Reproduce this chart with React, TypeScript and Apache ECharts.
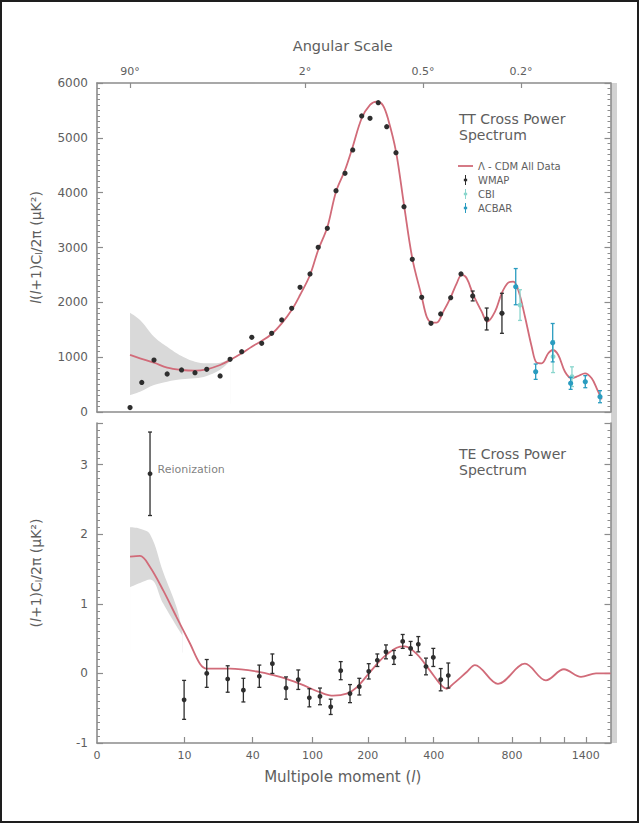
import React, { useEffect, useRef } from "react";
import * as echarts from "echarts";

const FONT = "DejaVu Sans";
const AXIS = "#8c8c8c";
const TEXT = "#5e5e5e";
const MODEL = "#d16b79";
const BAND = "#d9d9d9";
const WMAP_C = "#2e2e2e";
const CBI_C = "#8ad6cd";
const ACBAR_C = "#2a9cc0";

// Horizontal scale of the original figure: position proportional to l^(1/4)
const tx = (l: number) => Math.pow(l, 0.25);
const X_MIN = 0.832;
const X_MAX = 6.384;

// Axis ticks / labels
const multipoleTicks = [10, 40, 100, 200, 300, 400, 600, 800, 1000, 1200, 1400];
const multipoleLabels = [0, 10, 40, 100, 200, 400, 800, 1400];
const angleLabels = ["90°", "2°", "0.5°", "0.2°"];
const angleMultipoles = [2, 90, 360, 860];

// TT: WMAP binned points
const ttWmapL = [2, 3, 4.4, 6.4, 9.3, 12.8, 16.6, 21.9, 26.6, 33, 39.4, 46.6, 54.8, 64.1, 74.4, 84, 96.6, 108, 121.8, 136.2, 152.4, 167.4, 186.2, 205, 225, 247, 273, 297, 323.5, 355.7, 389.7, 427.8, 470, 516.7, 573.7, 648, 737];
const ttWmapV = [80, 540, 948, 693, 766, 717, 779, 657, 961, 1100, 1362, 1253, 1435, 1678, 1891, 2274, 2517, 3004, 3350, 4036, 4354, 4779, 5399, 5357, 5642, 5204, 4730, 3745, 2785, 2092, 1618, 1788, 2085, 2517, 2116, 1696, 1800];
const ttWmapErr = [0, 0, 0, 0, 0, 0, 0, 0, 0, 0, 0, 0, 0, 0, 0, 0, 0, 0, 0, 0, 0, 0, 0, 0, 0, 0, 0, 0, 0, 0, 0, 0, 0, 0, 90, 200, 365];

// TT: CBI and ACBAR
const cbiL = [854, 1103, 1268];
const cbiV = [1950, 1009, 644];
const cbiErr = [280, 290, 180];
const acbarL = [825, 966, 1100, 1256, 1395, 1546];
const acbarV = [2286, 735, 1264, 523, 553, 279];
const acbarErr = [330, 140, 350, 110, 110, 110];

// TT: Lambda-CDM model
const ttModelL = [2, 2.83, 4.4, 6.4, 9.3, 12.8, 16.6, 21.9, 26.6, 33, 39.4, 46.6, 54.8, 64.1, 74.4, 84, 96.6, 108, 121.8, 136.2, 152.4, 167.4, 186.2, 205, 221, 236.4, 251.4, 273, 297, 323.5, 355.7, 373.7, 389.7, 411.8, 438.5, 470, 496.8, 519.9, 543.8, 576.8, 620.6, 651.4, 695.4, 735.5, 776.6, 808.9, 842, 888.3, 936.5, 973.6, 1011.8, 1063.9, 1100, 1146.7, 1205, 1265, 1327, 1392, 1459, 1511, 1564];
const ttModelV = [1040, 979, 900, 808, 766, 753, 779, 857, 948, 1070, 1191, 1295, 1423, 1617, 1860, 2134, 2499, 2955, 3368, 4018, 4413, 4839, 5357, 5600, 5660, 5600, 5326, 4748, 3776, 2803, 2103, 1738, 1640, 1630, 1830, 2092, 2347, 2499, 2439, 2134, 1830, 1647, 1830, 2165, 2359, 2377, 2225, 1738, 1191, 899, 888, 1071, 1131, 1040, 735, 615, 657, 706, 615, 432, 231];

// TT: cosmic-variance band
const ttBandL = [2, 2.83, 4.4, 6.4, 9.3, 12.8, 16.6, 21.9, 26.6];
const ttBandLo = [310, 371, 492, 553, 596, 614, 657, 770, 930];
const ttBandHi = [1811, 1678, 1374, 1191, 1021, 917, 888, 900, 965];

// TE: WMAP points (first one is the reionization bin)
const teWmapL = [3.9, 9.9, 16.6, 25.4, 34, 44.8, 55.4, 68.4, 81.9, 95.7, 110.6, 127.3, 144.5, 162, 181, 202, 222.7, 245, 267, 293, 318, 343.8, 371, 398.6, 428, 459.6];
const teWmapV = [2.87, -0.38, 0.0, -0.08, -0.24, -0.04, 0.14, -0.21, -0.09, -0.35, -0.33, -0.48, 0.04, -0.29, -0.19, 0.03, 0.19, 0.31, 0.23, 0.46, 0.36, 0.42, 0.1, 0.23, -0.09, -0.03];
const teWmapErr = [0.6, 0.28, 0.2, 0.19, 0.17, 0.16, 0.14, 0.16, 0.14, 0.13, 0.12, 0.11, 0.13, 0.13, 0.12, 0.11, 0.09, 0.1, 0.1, 0.1, 0.1, 0.11, 0.12, 0.13, 0.16, 0.18];

// TE: model
const teModelL = [2, 2.83, 3.9, 5.76, 8.2, 11.4, 14.3, 16.6, 26.6, 45.3, 62.4, 84, 110.6, 131.6, 155.6, 175.6, 205, 238, 275, 300, 338, 386, 425, 453, 481, 544, 585, 713, 888, 1045, 1196, 1353, 1504, 1661];
const teModelV = [1.68, 1.69, 1.53, 1.19, 0.81, 0.43, 0.14, 0.07, 0.07, 0.02, -0.05, -0.15, -0.27, -0.32, -0.29, -0.2, 0.02, 0.23, 0.37, 0.39, 0.28, 0.04, -0.15, -0.22, -0.15, 0.02, 0.12, -0.15, 0.14, -0.1, 0.06, -0.05, 0.0, 0.0];

// TE: band
const teBandL = [2, 2.83, 3.9, 5.76, 8.2, 9.5];
const teBandLo = [1.24, 1.3, 1.35, 1.0, 0.68, 0.55];
const teBandHi = [2.1, 2.08, 2.0, 1.45, 0.95, 0.6];

const pairs = (ls: number[], vs: number[]) => ls.map((l, i) => [tx(l), vs[i]]);
const triples = (ls: number[], vs: number[], es: number[]) => ls.map((l, i) => [tx(l), vs[i], es[i]]);

function errorBars(color: string, r: number) {
  return (_params: any, api: any) => {
    const x = api.value(0);
    const y = api.value(1);
    const e = api.value(2);
    const c = api.coord([x, y]);
    const children: any[] = [];
    if (e > 0) {
      const top = api.coord([x, y + e]);
      const bot = api.coord([x, y - e]);
      const st = { stroke: color, lineWidth: 1.3 };
      children.push({ type: "line", shape: { x1: c[0], y1: top[1], x2: c[0], y2: bot[1] }, style: st });
      children.push({ type: "line", shape: { x1: c[0] - 2, y1: top[1], x2: c[0] + 2, y2: top[1] }, style: st });
      children.push({ type: "line", shape: { x1: c[0] - 2, y1: bot[1], x2: c[0] + 2, y2: bot[1] }, style: st });
    }
    children.push({ type: "circle", shape: { cx: c[0], cy: c[1], r }, style: { fill: color } });
    return { type: "group", children };
  };
}

const labelStyle = { fontFamily: FONT, color: TEXT };
const axisLine = { show: true, onZero: false, lineStyle: { color: AXIS, width: 1.6 } };

function yAxisPair(grid: number, min: number, max: number, interval: number, name: string) {
  const base = {
    gridIndex: grid,
    type: "value" as const,
    min,
    max,
    interval,
    axisLine,
    splitLine: { show: false },
    axisTick: { show: true, inside: true, length: 6, lineStyle: { color: AXIS, width: 1.2 } },
    minorTick: { show: true, splitNumber: 10, length: 3, lineStyle: { color: AXIS, width: 1 } },
  };
  return [
    {
      ...base,
      position: "left",
      name,
      nameLocation: "middle",
      nameGap: 54,
      nameRotate: 90,
      nameTextStyle: {
        ...labelStyle,
        fontSize: 14,
        padding: grid === 1 ? [0, 0, 0, 20] : 0,
        rich: {
          i: { ...labelStyle, fontSize: 14, fontStyle: "italic" },
          s: { ...labelStyle, fontSize: 9, verticalAlign: "bottom", padding: [6, 0, 0, 0] },
          n: { ...labelStyle, fontSize: 14 },
        },
      },
      axisLabel: {
        ...labelStyle,
        fontSize: 12,
        margin: 9,
        showMaxLabel: grid === 0,
        formatter: (v: number) => String(v),
      },
    },
    { ...base, position: "right", axisLabel: { show: false } },
  ];
}

// Band drawn as a grey area down to a base level, masked by a white area under its lower edge
function bandSeries(
  xAxisIndex: number,
  yAxisIndex: number,
  ls: number[],
  lo: number[],
  hi: number[],
  greyBase: number,
  whiteBase: number
) {
  const common = {
    type: "line",
    xAxisIndex,
    yAxisIndex,
    smooth: 0.4,
    showSymbol: false,
    silent: true,
    lineStyle: { opacity: 0 },
  };
  return [
    {
      ...common,
      name: "bandHi" + xAxisIndex,
      areaStyle: { color: BAND, opacity: 1, origin: greyBase },
      data: pairs(ls, hi),
      z: 1,
    },
    {
      ...common,
      name: "bandLo" + xAxisIndex,
      areaStyle: { color: "#ffffff", opacity: 1, origin: whiteBase },
      data: pairs(ls, lo),
      z: 2,
    },
  ];
}

export default function App() {
  const ref = useRef<HTMLDivElement>(null);
  useEffect(() => {
    if (!ref.current) return;
    const chart = echarts.init(ref.current, null, { renderer: "svg" });
    const ebIcon = "path://M1.4,0h1.2v12h-1.2z M0,4.5h4v3h-4z";
    const option: any = {
      animation: false,
      backgroundColor: "#ffffff",
      textStyle: { fontFamily: FONT },
      title: [
        {
          text: "TT Cross Power\nSpectrum",
          left: 454,
          top: 106,
          textStyle: { ...labelStyle, fontSize: 14, fontWeight: "normal", lineHeight: 16 },
        },
        {
          text: "TE Cross Power\nSpectrum",
          left: 454,
          top: 441,
          textStyle: { ...labelStyle, fontSize: 14, fontWeight: "normal", lineHeight: 16 },
        },
      ],
      legend: {
        orient: "vertical",
        left: 453,
        top: 156,
        itemWidth: 15,
        itemHeight: 10,
        itemGap: 4,
        textStyle: { ...labelStyle, fontSize: 10 },
        data: [
          { name: "Λ - CDM All Data", icon: "path://M0,0h15v1.8h-15z" },
          { name: "WMAP", icon: ebIcon },
          { name: "CBI", icon: ebIcon },
          { name: "ACBAR", icon: ebIcon },
        ],
      },
      grid: [
        { left: 97, right: 29.5, top: 83, height: 329 },
        { left: 97, right: 29.5, top: 423, height: 320 },
      ],
      xAxis: [
        {
          gridIndex: 0,
          type: "value",
          min: X_MIN,
          max: X_MAX,
          position: "bottom",
          axisLine,
          axisTick: { show: false },
          axisLabel: { show: false },
          splitLine: { show: false },
        },
        {
          gridIndex: 0,
          type: "value",
          min: X_MIN,
          max: X_MAX,
          position: "top",
          name: "Angular Scale",
          nameLocation: "middle",
          nameGap: 30,
          nameTextStyle: { ...labelStyle, fontSize: 14.5, padding: [0, 22, 0, 0] },
          axisLine,
          splitLine: { show: false },
          axisTick: {
            show: true,
            inside: true,
            length: 5,
            customValues: angleMultipoles.map(tx),
            lineStyle: { color: AXIS, width: 1.2 },
          },
          axisLabel: {
            ...labelStyle,
            fontSize: 11,
            margin: 6,
            customValues: angleMultipoles.map(tx),
            formatter: (v: number) => {
              let best = 0;
              angleMultipoles.forEach((l, i) => {
                if (Math.abs(tx(l) - v) < Math.abs(tx(angleMultipoles[best]) - v)) best = i;
              });
              return angleLabels[best];
            },
          },
        },
        {
          gridIndex: 1,
          type: "value",
          min: X_MIN,
          max: X_MAX,
          position: "bottom",
          name: "Multipole moment ({i|l})",
          nameLocation: "middle",
          nameGap: 26,
          nameTextStyle: {
            ...labelStyle,
            fontSize: 15,
            padding: [0, 22, 0, 0],
            rich: { i: { ...labelStyle, fontSize: 15, fontStyle: "italic" } },
          },
          axisLine,
          splitLine: { show: false },
          axisTick: {
            show: true,
            inside: true,
            length: 6,
            customValues: multipoleTicks.map(tx),
            lineStyle: { color: AXIS, width: 1.2 },
          },
          axisLabel: {
            ...labelStyle,
            fontSize: 11,
            margin: 7,
            customValues: multipoleLabels.map((l) => (l === 0 ? X_MIN : tx(l))),
            formatter: (v: number) => (v <= X_MIN + 1e-6 ? "0" : String(Math.round(Math.pow(v, 4)))),
          },
        },
      ],
      yAxis: [
        ...yAxisPair(0, 0, 6000, 1000, "{i|l}{n|(}{i|l}{n|+1)C}{s|l}{n|/2π (μK²)}"),
        ...yAxisPair(1, -1, 3.6, 1, "{n|(}{i|l}{n|+1)C}{s|l}{n|/2π (μK²)}"),
      ],
      graphic: [
        {
          type: "rect",
          shape: { x: 611, y: 83, width: 6, height: 660 },
          style: { fill: "#d2d2d2" },
          silent: true,
        },
        {
          type: "rect",
          shape: { x: 1, y: 1, width: 637, height: 821 },
          style: { fill: "none", stroke: "#1e1e1e", lineWidth: 2 },
          silent: true,
        },
      ],
      series: [
        ...bandSeries(0, 0, ttBandL, ttBandLo, ttBandHi, 150, 120),
        {
          type: "line",
          name: "Λ - CDM All Data",
          xAxisIndex: 0,
          yAxisIndex: 0,
          smooth: 0.35,
          showSymbol: false,
          color: MODEL,
          lineStyle: { color: MODEL, width: 1.8 },
          data: pairs(ttModelL, ttModelV),
          z: 3,
        },
        {
          type: "custom",
          name: "WMAP",
          xAxisIndex: 0,
          yAxisIndex: 0,
          itemStyle: { color: WMAP_C },
          renderItem: errorBars(WMAP_C, 2.6),
          encode: { x: 0, y: 1 },
          data: triples(ttWmapL, ttWmapV, ttWmapErr),
          z: 5,
        },
        {
          type: "custom",
          name: "CBI",
          xAxisIndex: 0,
          yAxisIndex: 0,
          itemStyle: { color: CBI_C },
          renderItem: errorBars(CBI_C, 2.4),
          encode: { x: 0, y: 1 },
          data: triples(cbiL, cbiV, cbiErr),
          z: 4,
        },
        {
          type: "custom",
          name: "ACBAR",
          xAxisIndex: 0,
          yAxisIndex: 0,
          itemStyle: { color: ACBAR_C },
          renderItem: errorBars(ACBAR_C, 2.6),
          encode: { x: 0, y: 1 },
          data: triples(acbarL, acbarV, acbarErr),
          z: 5,
        },
        ...bandSeries(2, 2, teBandL, teBandLo, teBandHi, 0.3, 0.25),
        {
          type: "line",
          name: "Λ - CDM All Data",
          xAxisIndex: 2,
          yAxisIndex: 2,
          smooth: 0.35,
          showSymbol: false,
          color: MODEL,
          lineStyle: { color: MODEL, width: 1.8 },
          data: pairs(teModelL, teModelV),
          z: 3,
        },
        {
          type: "custom",
          name: "WMAP",
          xAxisIndex: 2,
          yAxisIndex: 2,
          itemStyle: { color: WMAP_C },
          renderItem: errorBars(WMAP_C, 2.4),
          encode: { x: 0, y: 1 },
          data: triples(teWmapL, teWmapV, teWmapErr),
          z: 5,
        },
        {
          type: "scatter",
          name: "Reionization",
          xAxisIndex: 2,
          yAxisIndex: 2,
          symbolSize: 1,
          itemStyle: { color: "rgba(0,0,0,0)" },
          silent: true,
          label: {
            show: true,
            position: "right",
            distance: 7,
            offset: [0, -4],
            formatter: "Reionization",
            ...labelStyle,
            fontSize: 11,
          },
          data: [[tx(teWmapL[0]), teWmapV[0]]],
        },
      ],
    };
    chart.setOption(option);
    return () => chart.dispose();
  }, []);
  return (
    <div
      ref={ref}
      style={{ position: "absolute", left: 0, top: 0, width: 640, height: 824 }}
    />
  );
}
